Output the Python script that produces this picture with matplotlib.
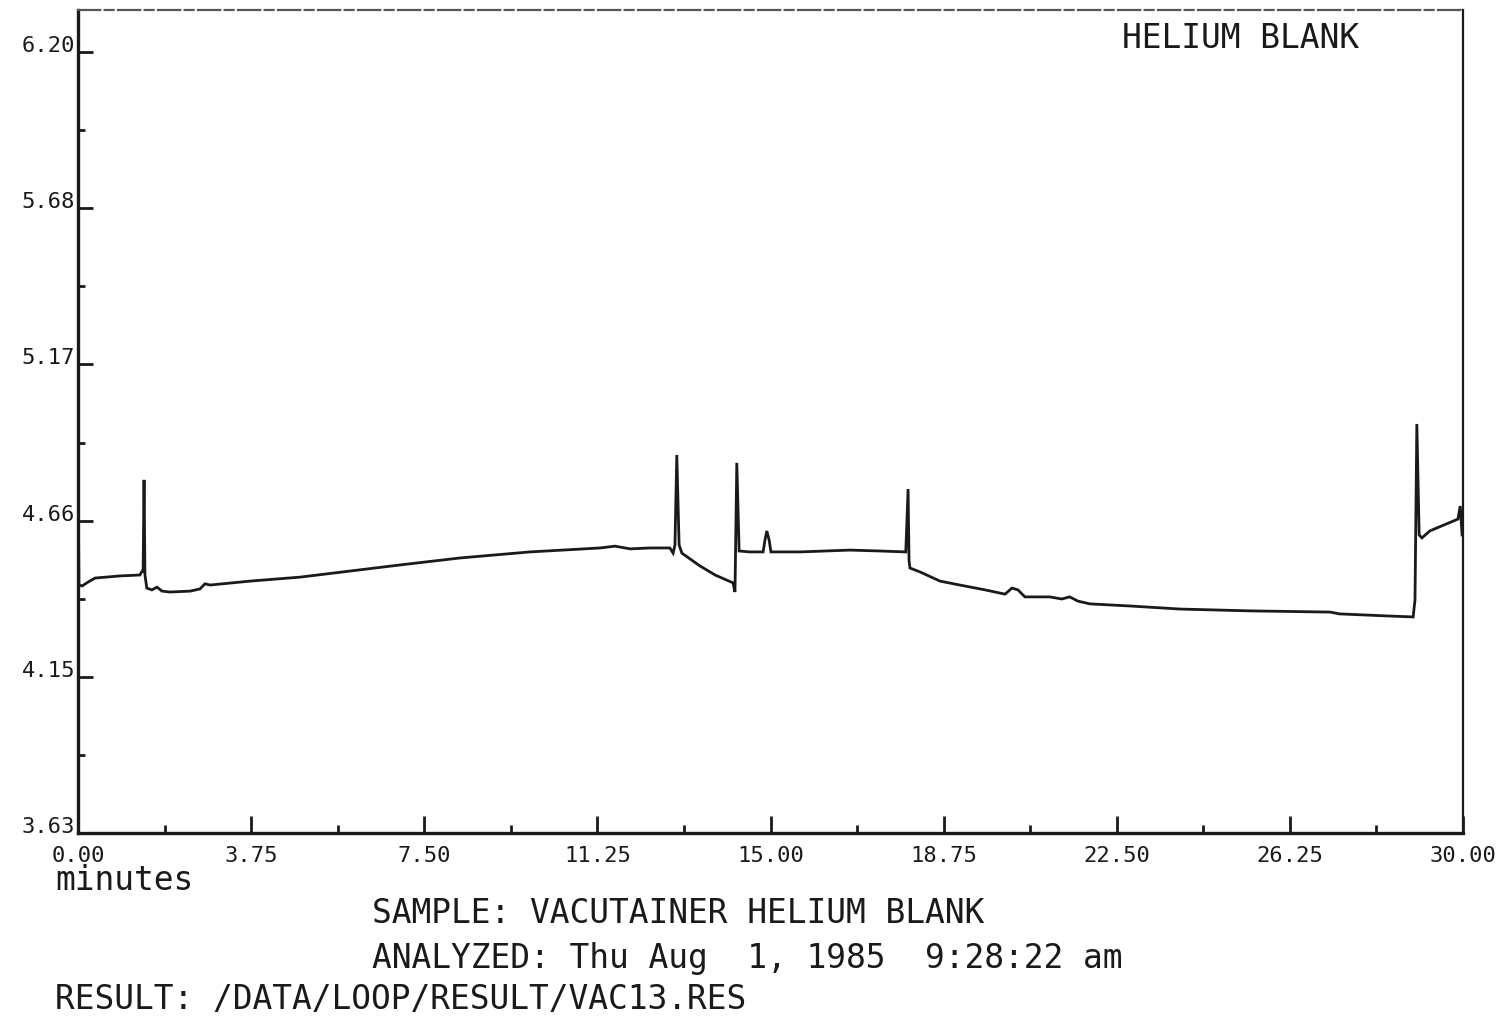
import numpy as np
import matplotlib.pyplot as plt

plt.rcParams['font.family'] = 'DejaVu Sans Mono'

# retention time (minutes) and detector signal
time_min = [0.00, 0.02, 0.09, 0.22, 0.37, 0.91, 1.34, 1.39, 1.41, 1.43, 1.45, 1.49,
            1.60, 1.71, 1.82, 1.99, 2.43, 2.64, 2.75, 2.86, 3.73, 4.81, 5.89, 6.97,
            8.27, 9.79, 11.31, 11.63, 11.96, 12.39, 12.82, 12.89, 12.93, 12.97, 13.02,
            13.08, 13.47, 13.80, 14.19, 14.23, 14.27, 14.32, 14.55, 14.84, 14.88, 14.92,
            14.97, 15.01, 15.64, 16.72, 17.37, 17.93, 17.98, 18.00, 18.02, 18.24, 18.67,
            19.10, 19.65, 20.08, 20.23, 20.36, 20.51, 21.05, 21.31, 21.48, 21.66, 21.92,
            22.79, 23.87, 25.38, 27.12, 27.33, 28.41, 28.92, 28.96, 29.00, 29.05, 29.11,
            29.28, 29.89, 29.94, 29.98]
signal = [4.841, 4.446, 4.443, 4.456, 4.469, 4.476, 4.479, 4.492, 4.492, 4.792, 4.479, 4.436,
          4.430, 4.439, 4.426, 4.423, 4.426, 4.433, 4.450, 4.446, 4.459, 4.472, 4.492, 4.512,
          4.535, 4.555, 4.568, 4.574, 4.565, 4.568, 4.568, 4.551, 4.578, 4.874, 4.578,
          4.551, 4.509, 4.479, 4.453, 4.423, 4.848, 4.558, 4.555, 4.555, 4.594, 4.624,
          4.594, 4.555, 4.555, 4.561, 4.558, 4.555, 4.762, 4.528, 4.502, 4.489, 4.459,
          4.446, 4.430, 4.416, 4.436, 4.430, 4.407, 4.407, 4.400, 4.407, 4.393, 4.384,
          4.377, 4.367, 4.361, 4.357, 4.351, 4.344, 4.341, 4.397, 4.976, 4.611, 4.601,
          4.624, 4.663, 4.706, 4.611]

y_tick_labels = ['3.63', '4.15', '4.66', '5.17', '5.68', '6.20']
x_tick_labels = ['0.00', '3.75', '7.50', '11.25', '15.00', '18.75', '22.50', '26.25', '30.00']

title_text = 'HELIUM BLANK'
sample_text = 'SAMPLE: VACUTAINER HELIUM BLANK'
analyzed_text = 'ANALYZED: Thu Aug  1, 1985  9:28:22 am'
result_text = 'RESULT: /DATA/LOOP/RESULT/VAC13.RES'

ink = '#1a1a1a'
big = 23.7
small = 15.9

fig = plt.figure(figsize=(15.12, 10.16), dpi=100)
ax = fig.add_axes([0.0516, 0.1801, 0.916, 0.810])

ax.plot(time_min, signal, color=ink, lw=2.0, solid_joinstyle='miter')

ax.set_xlim(0, 30)
ax.set_ylim(3.63, 6.338)

# major ticks with labels, minor ticks halfway between
y_major = np.linspace(3.63, 6.20, len(y_tick_labels))
y_step = y_major[1] - y_major[0]
ax.set_yticks(y_major)
ax.set_yticklabels(y_tick_labels)
ax.set_yticks(y_major[:-1] + y_step / 2, minor=True)

x_major = np.linspace(0, 30, len(x_tick_labels))
ax.set_xticks(x_major)
ax.set_xticklabels(x_tick_labels)
ax.set_xticks(x_major[:-1] + 1.875, minor=True)

ax.tick_params(which='both', direction='in', colors=ink, labelcolor=ink, labelsize=small)
ax.tick_params(axis='y', which='major', length=11, width=2, pad=2)
ax.tick_params(axis='y', which='minor', length=5, width=2)
ax.tick_params(axis='x', which='major', length=12, width=2, pad=9)
ax.tick_params(axis='x', which='minor', length=6, width=2)
for lbl in ax.get_yticklabels():
    lbl.set_verticalalignment('baseline')

for side in ['left', 'bottom']:
    ax.spines[side].set_linewidth(2.4)
    ax.spines[side].set_color(ink)
ax.spines['right'].set_linewidth(1.6)
ax.spines['right'].set_color(ink)
ax.spines['top'].set_linewidth(1.6)
ax.spines['top'].set_color('#555555')
ax.spines['top'].set_linestyle((0, (10, 2, 4, 2)))

ax.text(0.754, 0.966, title_text, transform=ax.transAxes, fontsize=big,
        color=ink, ha='left', va='center')

fig.text(55 / 1512, 1 - 890 / 1016, 'minutes', fontsize=big, color=ink,
         ha='left', va='baseline')
fig.text(372 / 1512, 1 - 923 / 1016, sample_text, fontsize=big, color=ink,
         ha='left', va='baseline')
fig.text(372 / 1512, 1 - 968 / 1016, analyzed_text, fontsize=big, color=ink,
         ha='left', va='baseline')
fig.text(55 / 1512, 1 - 1009 / 1016, result_text, fontsize=big, color=ink,
         ha='left', va='baseline')

plt.savefig('out.png', dpi=100)
